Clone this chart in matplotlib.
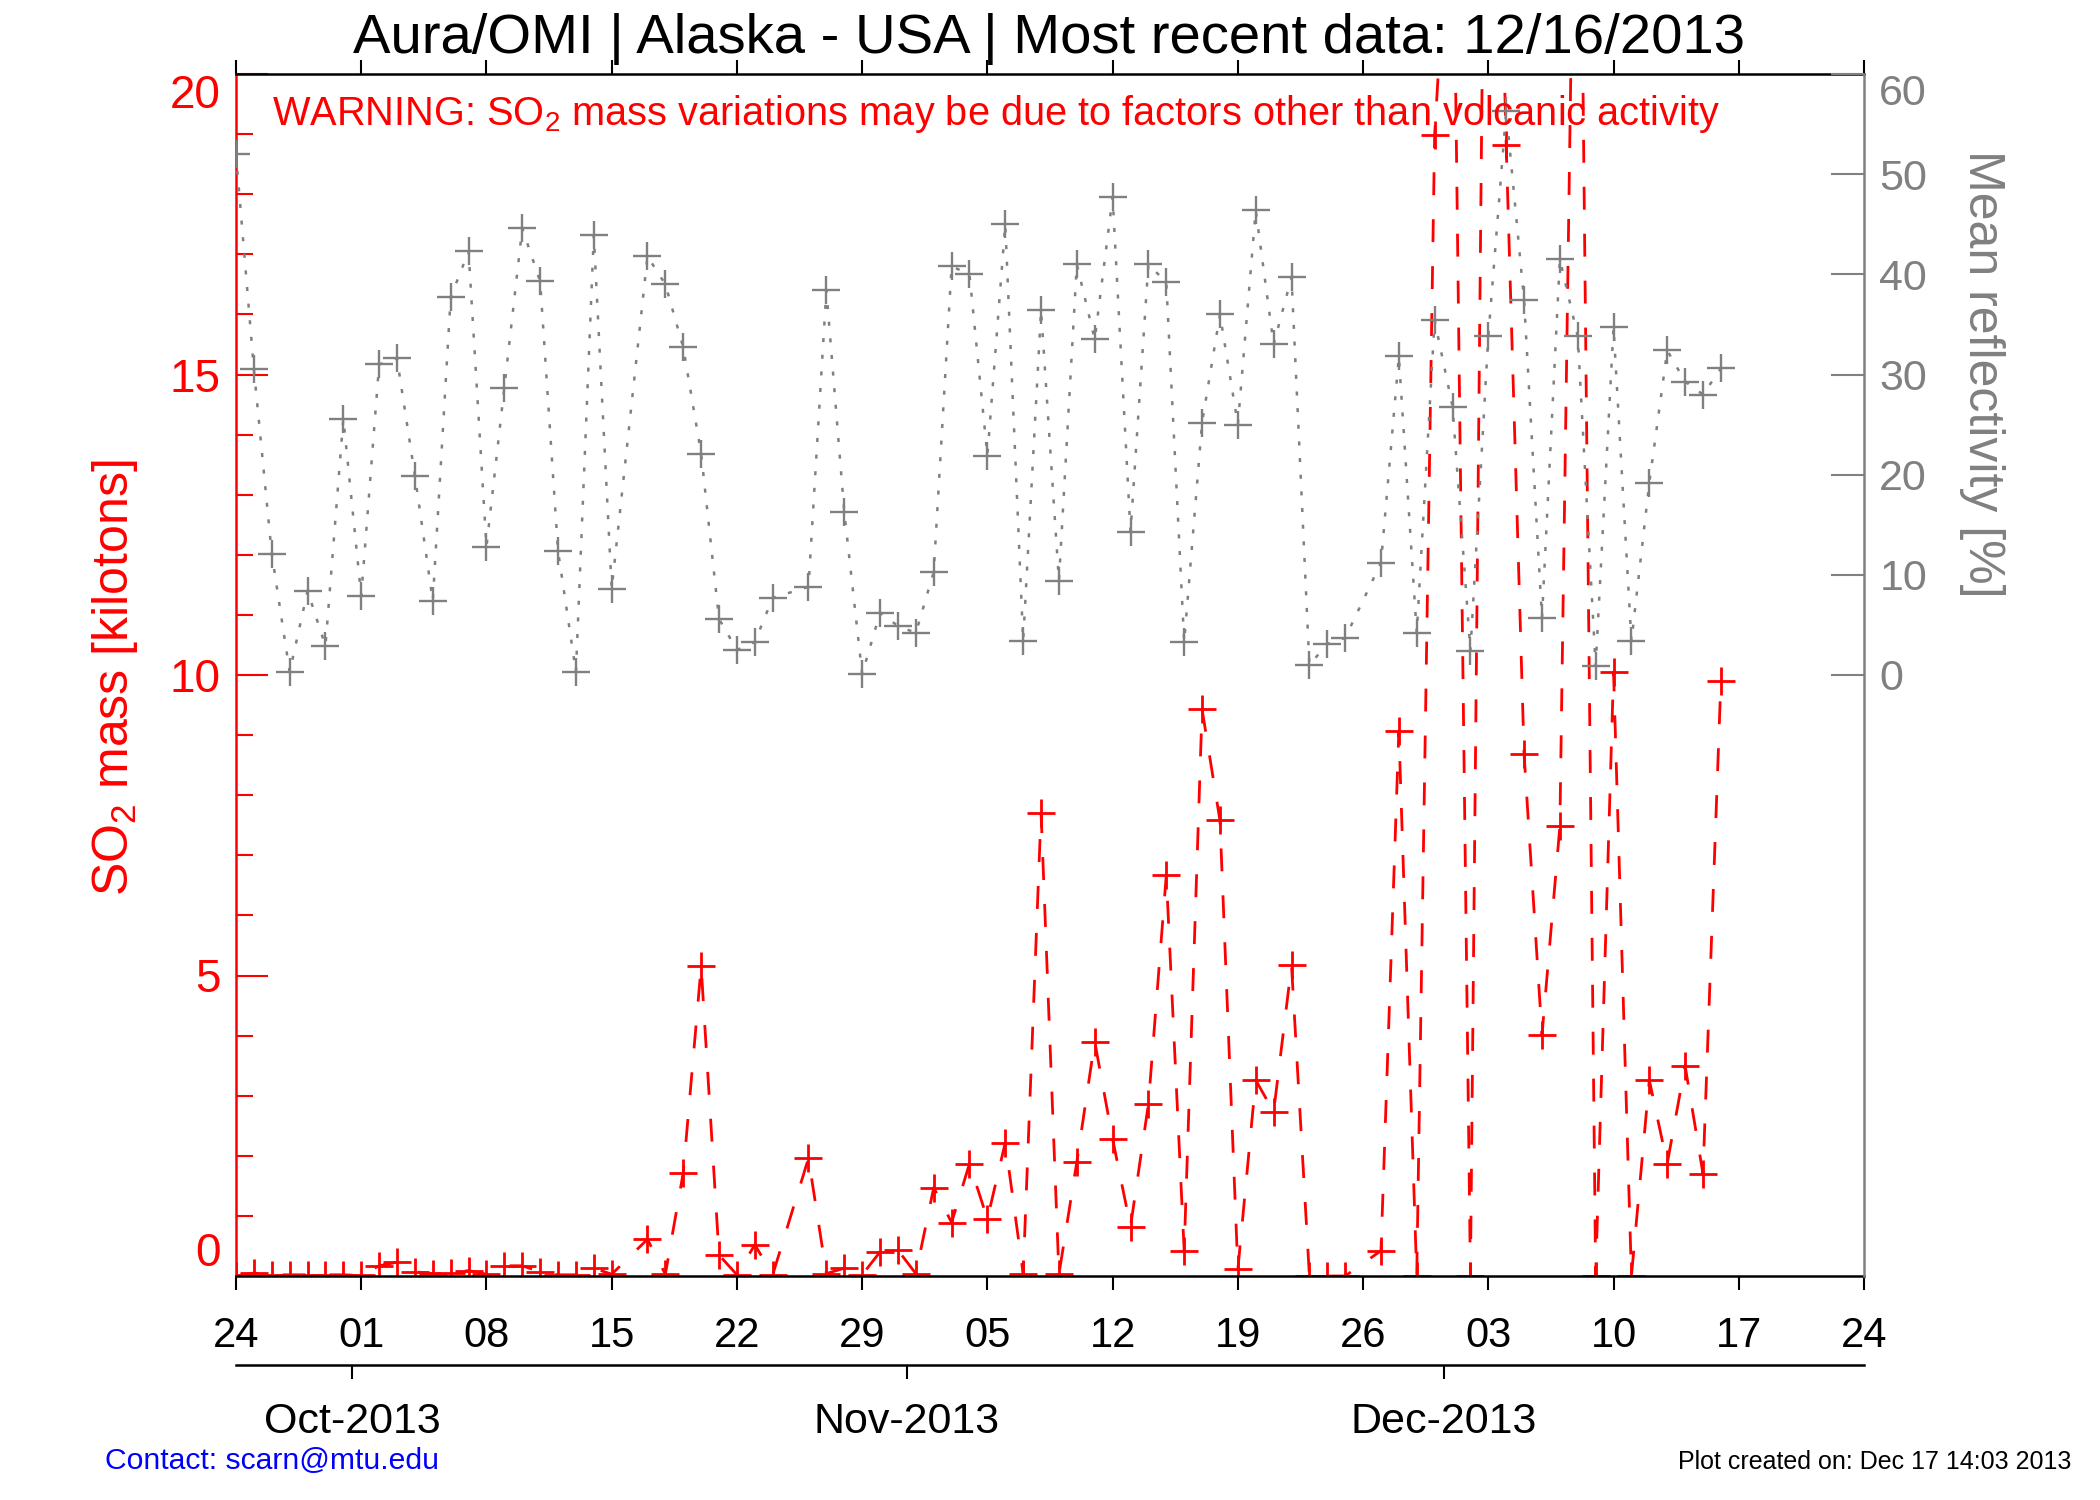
import matplotlib
matplotlib.use("Agg")
import matplotlib.pyplot as plt
import matplotlib.dates as mdates
from matplotlib import font_manager
from matplotlib.ticker import MultipleLocator
import pandas as pd

# ── data ────────────────────────────────────────────────────────────────────
first_day = "2013-09-24"
last_day = "2013-12-16"
missing_days = ["2013-10-16", "2013-10-25", "2013-11-26"]

# SO2 mass [kt], one value per observed day
so2_mass = [
    0.00, 0.05, 0.02, 0.02, 0.02, 0.02, 0.02, 0.01, 0.17, 0.23,
    0.07, 0.04, 0.05, 0.09, 0.03, 0.17, 0.17, 0.07, 0.02, 0.02,
    0.13, 0.03,
    0.61, 0.03, 1.72, 5.15, 0.35, 0.02, 0.52, 0.02,
    1.96, 0.04, 0.13, 0.02, 0.40, 0.43, 0.04, 1.47, 0.89, 1.87,
    0.95, 2.22, 0.04, 7.71, 0.03, 1.90, 3.90, 2.28, 0.82, 2.86,
    6.67, 0.42, 9.43, 7.58, 0.11, 3.26, 2.73, 5.17, 0.00, 0.00,
    0.00,
    0.42, 9.07, 0.00, 18.99, 24.0, 0.00, 30.5, 18.82, 8.68, 4.01,
    7.48, 28.0, 0.00, 10.05, 0.00, 3.26, 1.87, 3.50, 1.70, 9.90,
]

# mean reflectivity [%]
reflectivity = [
    52.0, 30.5, 12.1, 0.3, 8.4, 2.9, 25.6, 7.9, 31.0, 31.6,
    19.9, 7.4, 37.7, 42.3, 12.8, 28.7, 44.6, 39.3, 12.4, 0.3,
    43.9, 8.6,
    41.8, 39.0, 32.7, 22.1, 5.6, 2.5, 3.3, 7.7,
    8.8, 38.4, 16.3, 0.1, 6.2, 4.9, 4.2, 10.3, 40.8, 40.0,
    21.9, 45.0, 3.4, 36.4, 9.4, 41.0, 33.5, 47.7, 14.3, 41.0,
    39.2, 3.3, 25.2, 36.0, 25.0, 46.4, 33.0, 39.7, 1.0, 3.1,
    3.7,
    11.2, 31.8, 4.2, 35.4, 26.8, 2.4, 33.8, 56.3, 37.4, 5.7,
    41.5, 33.8, 0.9, 34.7, 3.4, 19.2, 32.4, 29.3, 28.0, 30.6,
]

so2_ticks = [0, 5, 10, 15, 20]
refl_ticks = [0, 10, 20, 30, 40, 50, 60]
month_ticks = ["2013-10-01", "2013-11-01", "2013-12-01"]
month_labels = ["Oct-2013", "Nov-2013", "Dec-2013"]

title = "Aura/OMI | Alaska - USA | Most recent data: 12/16/2013"
warning = ("WARNING: SO$_2$ mass variations may be due to factors "
           "other than volcanic activity")

# ── style ───────────────────────────────────────────────────────────────────
RED = "#ff0000"
GRAY = "#808080"
BLUE = "#0000ff"

names = {f.name for f in font_manager.fontManager.ttflist}
FONT = "Liberation Sans" if "Liberation Sans" in names else "DejaVu Sans"
plt.rcParams["font.family"] = [FONT, "DejaVu Sans"]
plt.rcParams["mathtext.fontset"] = "custom"
plt.rcParams["mathtext.rm"] = FONT
plt.rcParams["mathtext.it"] = FONT
plt.rcParams["lines.scale_dashes"] = False

W, H = 2100, 1500
L, R, T, B = 236, 1864, 74, 1276

obs = pd.date_range(first_day, last_day, freq="D").drop(pd.to_datetime(missing_days))
x0 = pd.Timestamp("2013-09-24")
x1 = pd.Timestamp("2013-12-24")
week_ticks = pd.date_range(x0, x1, freq="7D")

fig = plt.figure(figsize=(W / 100, H / 100), dpi=100)
fig.patch.set_facecolor("white")
ax = fig.add_axes([L / W, 1 - B / H, (R - L) / W, (B - T) / H])
ax2 = ax.twinx()

# ── series ──────────────────────────────────────────────────────────────────
ax.plot(obs, so2_mass, color=RED, lw=2.0, ls=(0, (16.5, 17.3)),
        marker="+", ms=19.5, mew=2.0)
ax2.plot(obs, reflectivity, color=GRAY, lw=1.8, ls=(0, (2.9, 9.1)),
         marker="+", ms=19.5, mew=1.7)

# ── x axis ──────────────────────────────────────────────────────────────────
ax.set_xlim(x0, x1)
ax.set_xticks(week_ticks)
ax.set_xticklabels([d.strftime("%d") for d in week_ticks])
ax.tick_params(axis="x", direction="out", length=10, width=1.5,
               colors="black", top=True, labeltop=False, labelsize=30, pad=18.5)

# month axis below; its ticks sit half a day before the 1st, as in the original
sec = ax.secondary_xaxis((B - 1365) / (B - T))
month_pos = pd.to_datetime(month_ticks) - pd.Timedelta(hours=12)
sec.set_xticks(mdates.date2num(month_pos))
sec.set_xticklabels(month_labels)
sec.tick_params(direction="out", length=10, width=1.5, labelsize=31, pad=16.5)
sec.spines["bottom"].set_linewidth(1.8)

# ── left axis (SO2) ─────────────────────────────────────────────────────────
ax.set_ylim(0, 20)
ax.set_yticks(so2_ticks)
ax.set_yticklabels([str(t) for t in so2_ticks])
ax.yaxis.set_minor_locator(MultipleLocator(1))
ax.tick_params(axis="y", which="major", direction="in", length=23, width=1.5,
               colors=RED, labelsize=33, pad=11)
ax.tick_params(axis="y", which="minor", direction="in", length=12, width=1.5,
               colors=RED)
lbls = ax.get_yticklabels()
lbls[0].set_verticalalignment("bottom")
lbls[-1].set_verticalalignment("top")

# ── right axis (reflectivity) ──────────────────────────────────────────────
ax2.set_ylim(-60, 60)
ax2.set_yticks(refl_ticks)
ax2.set_yticklabels([str(t) for t in refl_ticks])
ax2.tick_params(axis="y", direction="in", length=24, width=1.5,
                colors=GRAY, labelsize=31, pad=11)
ax2.get_yticklabels()[-1].set_verticalalignment("top")

# ── spines ──────────────────────────────────────────────────────────────────
for s in ("left", "top", "bottom"):
    ax2.spines[s].set_visible(False)
ax.spines["right"].set_visible(False)
ax.spines["left"].set_color(RED)
ax2.spines["right"].set_color(GRAY)
for sp in list(ax.spines.values()) + list(ax2.spines.values()):
    sp.set_linewidth(1.8)

# ── texts ───────────────────────────────────────────────────────────────────
fig.text(1049 / W, 1 - 53 / H, title, ha="center", va="baseline",
         fontsize=40.5, color="black")
fig.text(272 / W, 1 - 125 / H, warning, ha="left", va="baseline",
         fontsize=28.6, color=RED)
fig.text(115 / W, 1 - 678 / H, "SO$_2$ mass [kilotons]", rotation=90,
         ha="center", va="center", fontsize=36, color=RED)
fig.text(1982 / W, 1 - 374 / H, "Mean reflectivity [%]", rotation=-90,
         ha="center", va="center", fontsize=36, color=GRAY)
fig.text(105 / W, 1 - 1469 / H, "Contact: scarn@mtu.edu", ha="left",
         va="baseline", fontsize=21.7, color=BLUE)
fig.text(2071 / W, 1 - 1469 / H, "Plot created on: Dec 17 14:03 2013",
         ha="right", va="baseline", fontsize=18, color="black")

fig.savefig("out.png", dpi=100, facecolor="white")
